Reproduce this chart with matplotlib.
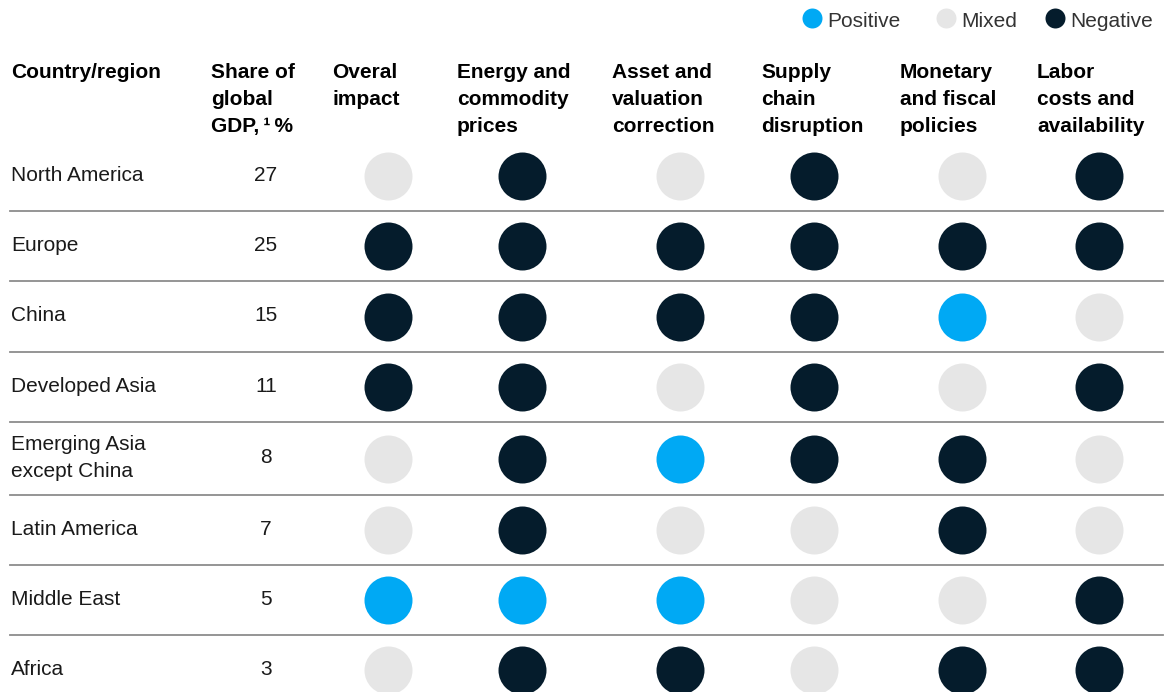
import matplotlib
matplotlib.use("Agg")
import matplotlib.pyplot as plt

plt.rcParams['font.family'] = ['Liberation Sans', 'DejaVu Sans']

# data
regions = ["North America", "Europe", "China", "Developed Asia",
           "Emerging Asia\nexcept China", "Latin America", "Middle East", "Africa"]
gdp_share = [27, 25, 15, 11, 8, 7, 5, 3]

factor_labels = ["Overal\nimpact", "Energy and\ncommodity\nprices",
                 "Asset and\nvaluation\ncorrection", "Supply\nchain\ndisruption",
                 "Monetary\nand fiscal\npolicies", "Labor\ncosts and\navailability"]

# P = positive, M = mixed, N = negative
overall = ["M", "N", "N", "N", "M", "M", "P", "M"]
energy = ["N", "N", "N", "N", "N", "N", "P", "N"]
asset = ["M", "N", "N", "M", "P", "M", "P", "N"]
supply = ["N", "N", "N", "N", "N", "M", "M", "M"]
monetary = ["M", "N", "P", "M", "N", "N", "M", "N"]
labor = ["N", "N", "M", "N", "M", "M", "N", "N"]
impacts = [overall, energy, asset, supply, monetary, labor]

legend_labels = ["Positive", "Mixed", "Negative"]
colors = {"P": "#00a9f4", "M": "#e6e6e6", "N": "#051c2c"}

# layout (pixels)
W, H = 1173, 692
row_edges = [141, 211, 281, 352, 422, 495, 565, 635, 705]
col_x = [388, 522, 680, 814, 962, 1099]
head_x = [332, 457, 612, 761, 900, 1037]
fs = 15
txt = "#1a1a1a"
line_h = 27

fig = plt.figure(figsize=(W / 100, H / 100), dpi=100)
ax = fig.add_axes([0, 0, 1, 1])
ax.set_xlim(0, W)
ax.set_ylim(H, 0)
ax.axis('off')

def put_lines(x, y0, s, **kw):
    for k, line in enumerate(s.split("\n")):
        ax.text(x, y0 + k * line_h, line, va='baseline', fontsize=fs, **kw)

# header
put_lines(11, 78, "Country/region", fontweight='bold', color='black')
put_lines(211, 78, "Share of\nglobal\nGDP,\u2009\u00b9\u2009%", fontweight='bold', color='black')
for x, lab in zip(head_x, factor_labels):
    put_lines(x, 78, lab, fontweight='bold', color='black')

# rows
for i, (reg, g) in enumerate(zip(regions, gdp_share)):
    yc = (row_edges[i] + row_edges[i + 1]) / 2
    n = reg.count("\n") + 1
    base = yc + 4.7 - (n - 1) * line_h / 2
    put_lines(11, base, reg, color=txt)
    ax.text(266, yc + 4.7, str(g), ha='center', va='baseline', fontsize=fs, color=txt)
    for j, x in enumerate(col_x):
        ax.scatter(x, yc, s=1194, color=colors[impacts[j][i]], linewidths=0, zorder=3)
    if i > 0:
        ax.plot([10, 1163], [row_edges[i], row_edges[i]], color='#8c8c8c', lw=1.3, zorder=1)

# legend
leg_dot_x = [812, 946, 1055]
for x, lab, key in zip(leg_dot_x, legend_labels, ["P", "M", "N"]):
    ax.scatter(x, 18.3, s=207, color=colors[key], linewidths=0)
    ax.text(x + 15, 26.7, lab, va='baseline', fontsize=fs, color='#333333')

plt.savefig('out.png', dpi=100)
plt.close()
